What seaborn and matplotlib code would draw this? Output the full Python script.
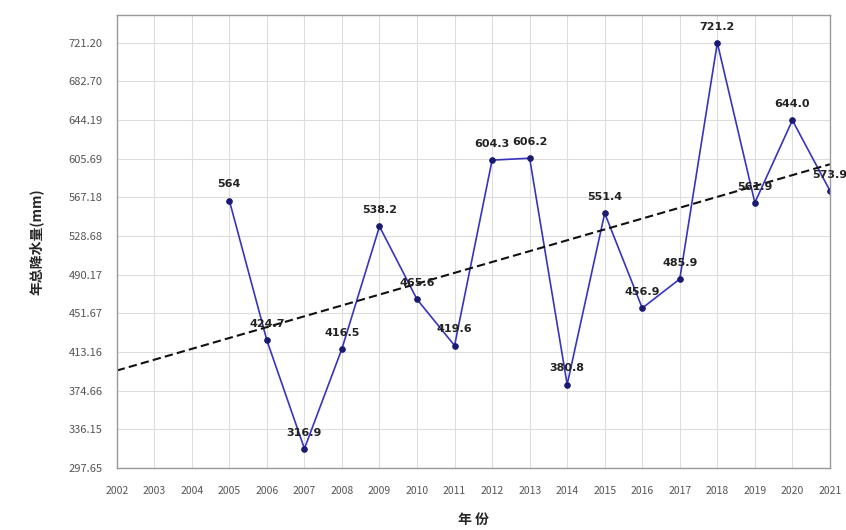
#!/usr/bin/env python3
# Annual precipitation with linear trend
import numpy as np
import pandas as pd
import seaborn as sns
import matplotlib.pyplot as plt

years = [2005, 2006, 2007, 2008, 2009, 2010, 2011, 2012, 2013,
         2014, 2015, 2016, 2017, 2018, 2019, 2020, 2021]
precip = [564, 424.7, 316.9, 416.5, 538.2, 465.6, 419.6, 604.3, 606.2,
          380.8, 551.4, 456.9, 485.9, 721.2, 561.9, 644.0, 573.9]
point_labels = ["564", "424.7", "316.9", "416.5", "538.2", "465.6", "419.6", "604.3", "606.2",
                "380.8", "551.4", "456.9", "485.9", "721.2", "561.9", "644.0", "573.9"]
year_ticks = list(range(2002, 2022))
y_ticks = [297.65, 336.15, 374.66, 413.16, 451.67, 490.17, 528.68,
           567.18, 605.69, 644.19, 682.70, 721.20]

sns.set_style("whitegrid")
plt.rcParams['font.family'] = ['Noto Sans CJK SC', 'DejaVu Sans']

df = pd.DataFrame({'year': years, 'precip': precip})

# least-squares trend over the data, drawn across the whole axis
slope, intercept = np.polyfit(df['year'], df['precip'], 1)
trend = pd.DataFrame({'year': [year_ticks[0], year_ticks[-1]]})
trend['precip'] = slope * trend['year'] + intercept

fig = plt.figure(figsize=(8.46, 5.30), dpi=100)
ax = fig.add_axes([0.138, 0.117, 0.843, 0.855])

sns.lineplot(data=df, x='year', y='precip', ax=ax, color='#3535c0', linewidth=1.2,
             marker='o', markersize=4, markerfacecolor='#1a1a70', markeredgecolor='#1a1a70')
sns.lineplot(data=trend, x='year', y='precip', ax=ax, color='#111111', linewidth=1.5,
             linestyle=(0, (4, 2)))

for x, y, t in zip(years, precip, point_labels):
    ax.annotate(t, (x, y), xytext=(0, 8), textcoords='offset points', ha='center', va='bottom',
                fontsize=8, fontweight='bold', color='#222222', family=['DejaVu Sans'])

ax.set_xlim(2002, 2021)
ax.set_ylim(297.65, 749)
ax.set_xticks(year_ticks)
ax.set_yticks(y_ticks)
ax.set_yticklabels([f"{v:.2f}" for v in y_ticks])
ax.tick_params(axis='y', labelsize=8, colors='#555555', length=0, pad=10)
ax.tick_params(axis='x', labelsize=7.5, colors='#555555', length=0, pad=13)
ax.grid(True, color='#dddddd', linewidth=0.8)
for s in ax.spines.values():
    s.set_color('#999999')
    s.set_linewidth(1.0)

ax.set_xlabel('年 份', fontsize=10, fontweight='bold', labelpad=12)
ax.set_ylabel('年总降水量(mm)', fontsize=10, fontweight='bold', labelpad=18)

plt.savefig('out.png', dpi=100)
